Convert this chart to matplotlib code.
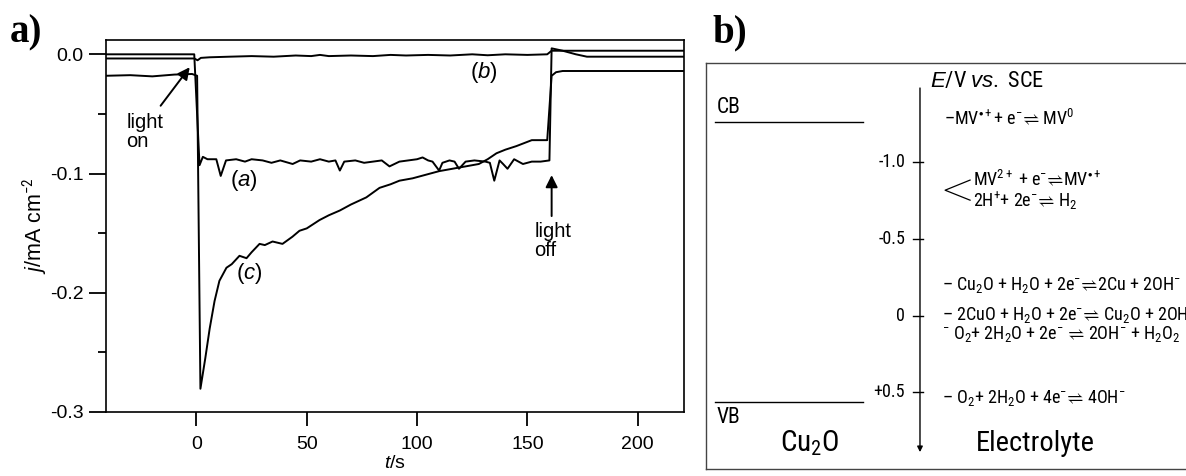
import matplotlib
matplotlib.use('Agg')
import matplotlib.pyplot as plt
from matplotlib import font_manager

# ---- panel a: photocurrent transients (t / s, j / mA cm-2) ----
t_a = [-41, -1, 1.4, 2.9, 5, 9, 11, 13.4, 18, 22, 25, 30, 34, 38, 43.6, 47, 52, 56, 60, 63,
       65, 67, 72, 76, 80, 84, 87.5, 92, 96, 100, 102.5, 105, 107, 110, 111.5, 114.7, 117,
       119, 122, 126, 131, 133, 135, 137.4, 139, 141, 144, 148, 152, 156, 160, 161, 166,
       172, 177, 221]
j_a = [0.0, 0.0, -0.093, -0.086, -0.088, -0.088, -0.102, -0.089, -0.088, -0.090, -0.088,
       -0.089, -0.091, -0.089, -0.092, -0.089, -0.090, -0.088, -0.090, -0.089, -0.0975,
       -0.090, -0.089, -0.091, -0.090, -0.089, -0.094, -0.090, -0.089, -0.088, -0.0865,
       -0.089, -0.090, -0.0975, -0.091, -0.089, -0.090, -0.096, -0.090, -0.089, -0.090,
       -0.091, -0.106, -0.089, -0.092, -0.096, -0.088, -0.092, -0.090, -0.090, -0.089,
       0.005, 0.003, 0.0, -0.002, -0.002]

t_b = [-41, -1, 0.5, 2, 6, 15, 25, 35, 45, 52, 56, 60, 70, 80, 88, 95, 105, 115, 125, 132,
       140, 150, 159, 161, 221]
j_b = [-0.0035, -0.0035, -0.005, -0.003, -0.0025, -0.002, -0.0015, -0.002, -0.001, -0.0015,
       -0.0005, -0.0015, -0.001, -0.0015, -0.0005, -0.001, -0.0005, -0.001, 0.0, -0.0008,
       0.0, -0.0005, 0.0, 0.003, 0.003]

t_c = [-41, -30, -20, -10, -2, 0.3, 1.8, 4, 6, 8.2, 10.4, 13.6, 16, 19.5, 22.7, 25, 28.6, 31,
       34.5, 39, 43.5, 46.7, 50, 55.8, 60, 65, 70, 77, 83, 88, 92, 98, 104, 110, 116, 122,
       128, 132, 136, 140, 145, 152, 159, 161, 163, 166, 221]
j_c = [-0.018, -0.0175, -0.0185, -0.017, -0.0165, -0.018, -0.2805, -0.255, -0.23, -0.207,
       -0.19, -0.179, -0.176, -0.169, -0.171, -0.166, -0.159, -0.160, -0.157, -0.159, -0.153,
       -0.148, -0.146, -0.139, -0.135, -0.131, -0.126, -0.120, -0.112, -0.109, -0.106, -0.104,
       -0.101, -0.098, -0.096, -0.094, -0.092, -0.088, -0.083, -0.080, -0.077, -0.072, -0.072,
       -0.018, -0.015, -0.014, -0.014]

# ---- panel b: energy diagram (E / V vs. SCE) ----
E_cb = -1.26
E_vb = 0.565
E_ticks = [-1.0, -0.5, 0.0, 0.5]
E_ticklabels = ['-1.0', '-0.5', '0', '+0.5']
eq = '$\u21cc$'
rxn_labels = [
    '\u2013MV$^{\\bullet+}$+ e$^{-}$' + eq + ' MV$^{0}$',
    'MV$^{2+}$ + e$^{-}$' + eq + 'MV$^{\\bullet+}$',
    '2H$^{+}$+ 2e$^{-}$' + eq + ' H$_{2}$',
    '\u2013 Cu$_{2}$O + H$_{2}$O + 2e$^{-}$' + eq + '2Cu + 2OH$^{-}$',
    '\u2013 2CuO + H$_{2}$O + 2e$^{-}$' + eq + ' Cu$_{2}$O + 2OH$^{-}$',
    '$^{-}$ O$_{2}$+ 2H$_{2}$O + 2e$^{-}$ ' + eq + ' 2OH$^{-}$ + H$_{2}$O$_{2}$',
    '\u2013 O$_{2}$+ 2H$_{2}$O + 4e$^{-}$' + eq + ' 4OH$^{-}$',
]
rxn_E = [-1.287, -0.89, -0.745, -0.198, -0.002, 0.12, 0.54]
rxn_x = [0.487, 0.546, 0.546, 0.483, 0.483, 0.483, 0.483]

avail = {f.name for f in font_manager.fontManager.ttflist}
narrow = 'Liberation Sans'
for cand in ['Liberation Sans Narrow', 'Arial Narrow', 'Roboto Condensed', 'Archivo Narrow']:
    if cand in avail:
        narrow = cand
        break

plt.rcParams['font.family'] = ['Liberation Sans', 'DejaVu Sans']
plt.rcParams['axes.unicode_minus'] = False
plt.rcParams['mathtext.fontset'] = 'custom'
plt.rcParams['mathtext.rm'] = narrow
plt.rcParams['mathtext.it'] = 'Liberation Sans:italic'
plt.rcParams['mathtext.fallback'] = 'stixsans'

fig = plt.figure(figsize=(11.86, 4.76), dpi=100)
W, H = 1186, 476

# ---------------- panel a ----------------
ax = fig.add_axes([106 / W, 1 - 412 / H, (684 - 106) / W, (412 - 40) / H])
for t, j in [(t_a, j_a), (t_b, j_b), (t_c, j_c)]:
    ax.plot(t, j, color='k', lw=1.4)
ax.set_xlim(-41, 221)
ax.set_ylim(-0.3, 0.012)
ax.set_xticks([0, 50, 100, 150, 200])
ax.set_yticks([0.0, -0.1, -0.2, -0.3])
ax.set_yticklabels(['0.0', '-0.1', '-0.2', '-0.3'])
ax.set_yticks([-0.05, -0.15, -0.25], minor=True)
ax.tick_params(axis='both', which='major', direction='out', length=12, width=1.3,
               labelsize=14, pad=4)
ax.tick_params(axis='x', which='major', length=10, pad=7)
ax.tick_params(axis='y', which='minor', direction='out', length=6, width=1.3)
for s in ax.spines.values():
    s.set_linewidth(1.2)
ax.set_xlabel('$\\mathit{t}$/s', fontsize=14)
ax.set_ylabel('$\\mathit{j}$/mA cm$^{-2}$', fontsize=15.5)
ax.xaxis.set_label_coords(0.5, -0.115)
ax.yaxis.set_label_coords(-0.098, 0.5)

ax.annotate('', xy=(-2.3, -0.009), xytext=(-17, -0.045),
            arrowprops=dict(arrowstyle='-|>', color='k', lw=1.4, mutation_scale=18))
ax.text(-31.7, -0.0496, 'light\non', fontsize=14.5, ha='left', va='top', linespacing=0.95)
ax.annotate('', xy=(161, -0.099), xytext=(161, -0.138),
            arrowprops=dict(arrowstyle='-|>', color='k', lw=1.4, mutation_scale=18))
ax.text(153.2, -0.141, 'light\noff', fontsize=14.5, ha='left', va='top', linespacing=0.95)
ax.text(15, -0.106, '($\\mathit{a}$)', fontsize=16, ha='left', va='center')
ax.text(123.8, -0.015, '($\\mathit{b}$)', fontsize=16, ha='left', va='center')
ax.text(18, -0.184, '($\\mathit{c}$)', fontsize=16, ha='left', va='center')

fig.text(10 / W, 1 - 42 / H, 'a)', family='Liberation Serif', weight='bold', fontsize=28,
         va='baseline')
fig.text(712 / W, 1 - 42 / H, 'b)', family='Liberation Serif', weight='bold', fontsize=28,
         va='baseline')

# ---------------- panel b ----------------
bx = fig.add_axes([706 / W, 1 - 469 / H, (1195 - 706) / W, (469 - 63) / H])
bx.set_xlim(0, 1)
bx.set_ylim(1.0, -1.646)
bx.set_xticks([])
bx.set_yticks([])
for s in bx.spines.values():
    s.set_linewidth(1.0)
    s.set_color('#444444')

bx.plot([0.018, 0.321], [E_cb, E_cb], color='k', lw=1.0)
bx.plot([0.018, 0.321], [E_vb, E_vb], color='k', lw=1.0)
bx.text(0.022, E_cb - 0.03, 'CB', family=narrow, fontsize=15.5, ha='left', va='bottom')
bx.text(0.022, E_vb + 0.03, 'VB', family=narrow, fontsize=15.5, ha='left', va='top')
bx.text(0.213, 0.833, 'Cu$_{2}$O', family=narrow, fontsize=21, ha='center', va='center')
bx.text(0.673, 0.833, 'Electrolyte', family=narrow, fontsize=20.5, ha='center', va='center')

ax_x = 0.4376
bx.annotate('', xy=(ax_x, 0.89), xytext=(ax_x, -1.483),
            arrowprops=dict(arrowstyle='-|>', color='k', lw=1.0, mutation_scale=8,
                            shrinkA=0, shrinkB=0))
for e, lab in zip(E_ticks, E_ticklabels):
    bx.plot([0.423, 0.444], [e, e], color='k', lw=1.0)
    bx.text(0.407, e, lab, family=narrow, fontsize=13, ha='right', va='center')
bx.text(0.458, -1.528, '$\\mathit{E}$/V $\\mathit{vs.}$ SCE', family=narrow, fontsize=16,
        ha='left', va='center')

for lab, e, x in zip(rxn_labels, rxn_E, rxn_x):
    bx.text(x, e, lab, family=narrow, fontsize=13, ha='left', va='center', clip_on=False)

# bracket joining the two reactions near -0.8 V
bx.plot([0.540, 0.489, 0.540], [-0.883, -0.817, -0.752], color='k', lw=0.9)

fig.savefig('out.png', dpi=100)
